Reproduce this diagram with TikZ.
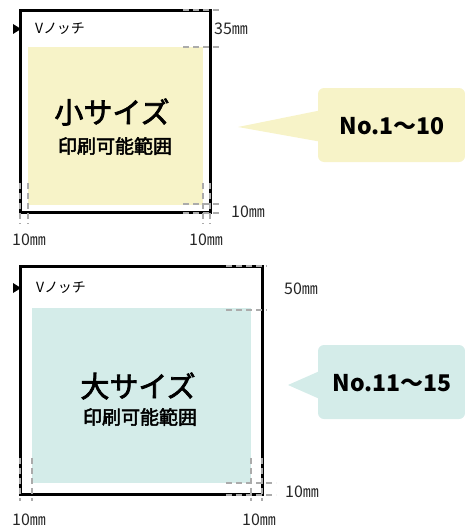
\documentclass[tikz,border=0pt]{standalone}
\usepackage{fontspec}
\setmainfont{Noto Sans CJK JP}
\newfontfamily\medfont[FakeBold=2.5]{Noto Sans CJK JP}
\begin{document}
\begin{tikzpicture}[x=1pt,y=-1pt,
  frame/.style={line width=3pt, draw=black},
  guide/.style={draw=black!33, line width=1.4pt, dash pattern=on 6pt off 4pt},
  dimlbl/.style={font=\fontsize{16}{16}\selectfont, inner sep=0pt, text=black!85},
  notchlbl/.style={font=\fontsize{14}{14}\selectfont, inner sep=0pt, anchor=west},
  bigtitle/.style={font=\fontsize{29}{29}\medfont, inner sep=0pt},
  subtitle/.style={font=\fontsize{19}{19}\medfont, inner sep=0pt},
  calltext/.style={font=\fontsize{23}{23}\selectfont\bfseries, inner sep=0pt}]
\definecolor{yel}{HTML}{F7F3C8}
\definecolor{teal}{HTML}{D4ECE9}
\useasboundingbox (0,0) rectangle (465,527);

% ---------- top (small size) ----------
\fill[yel] (28,47) rectangle (203,205);
\draw[frame] (20,11) rectangle (210,212);
\draw[guide] (183,10) -- (221,10);
\draw[guide] (183,47) -- (221,47);
\draw[guide] (183,204) -- (221,204);
\draw[guide] (183,213) -- (221,213);
\draw[guide] (20,183) -- (20,224);
\draw[guide] (28,183) -- (28,224);
\draw[guide] (203,183) -- (203,224);
\draw[guide] (210,183) -- (210,224);
\fill[black] (13,24) -- (21,29) -- (13,34) -- cycle;
\node[notchlbl] (n1) at (35,29) {Vノッチ};
\node[dimlbl, anchor=west] (d1a) at (214,29) {35㎜};
\node[dimlbl, anchor=west] (d1b) at (231,212) {10㎜};
\node[dimlbl] (d1c) at (29,240) {10㎜};
\node[dimlbl] (d1d) at (206,240) {10㎜};
\node[bigtitle] (t1) at (112,112) {小サイズ};
\node[subtitle] (s1) at (115,146) {印刷可能範囲};
\fill[yel] (238,127) -- (322,110) -- (322,142) -- cycle;
\fill[yel, rounded corners=6pt] (318,88) rectangle (465,162);
\node[calltext] (c1) at (392,126) {No.1〜10};

% ---------- bottom (large size) ----------
\fill[teal] (32,308) rectangle (251,483);
\draw[frame] (20,266) rectangle (262,494);
\draw[guide] (226,266) -- (267,266);
\draw[guide] (226,310) -- (267,310);
\draw[guide] (226,483) -- (276,483);
\draw[guide] (226,495) -- (276,495);
\draw[guide] (20,458) -- (20,501);
\draw[guide] (32,458) -- (32,501);
\draw[guide] (251,458) -- (251,501);
\draw[guide] (262,458) -- (262,501);
\fill[black] (13,283) -- (21,288) -- (13,293) -- cycle;
\node[notchlbl] (n2) at (36,288) {Vノッチ};
\node[dimlbl, anchor=west] (d2a) at (284,289) {50㎜};
\node[dimlbl, anchor=west] (d2b) at (285,492) {10㎜};
\node[dimlbl] (d2c) at (29,520) {10㎜};
\node[dimlbl] (d2d) at (259,520) {10㎜};
\node[bigtitle] (t2) at (138,386) {大サイズ};
\node[subtitle] (s2) at (140,417) {印刷可能範囲};
\fill[teal] (288,385) -- (322,370) -- (322,400) -- cycle;
\fill[teal, rounded corners=6pt] (318,345) rectangle (465,419);
\node[calltext] (c2) at (392,383) {No.11〜15};
\end{tikzpicture}
\end{document}
